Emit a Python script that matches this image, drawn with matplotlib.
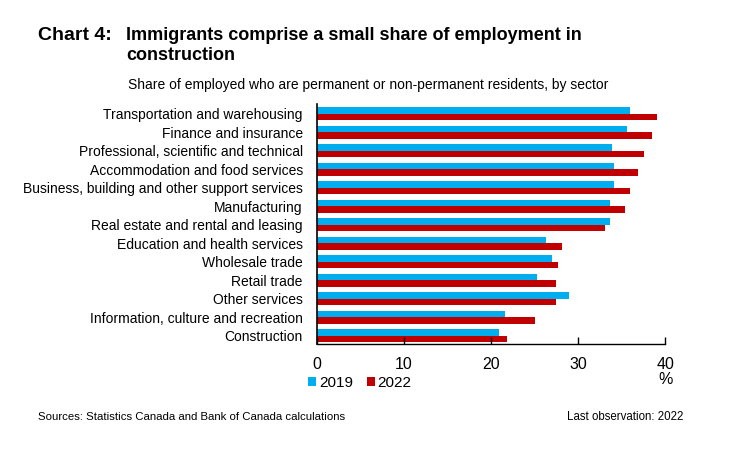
import matplotlib.pyplot as plt
import numpy as np

sectors = [
    'Transportation and warehousing',
    'Finance and insurance',
    'Professional, scientific and technical',
    'Accommodation and food services',
    'Business, building and other support services',
    'Manufacturing',
    'Real estate and rental and leasing',
    'Education and health services',
    'Wholesale trade',
    'Retail trade',
    'Other services',
    'Information, culture and recreation',
    'Construction',
]
share_2019 = [35.9, 35.6, 33.9, 34.1, 34.1, 33.6, 33.6, 26.3, 27.0, 25.3, 28.9, 21.6, 20.9]
share_2022 = [39.0, 38.5, 37.5, 36.9, 36.0, 35.4, 33.1, 28.2, 27.7, 27.4, 27.4, 25.1, 21.8]
xticks = [0, 10, 20, 30, 40]

blue = '#00AEEF'
red = '#C00000'
plt.rcParams['font.family'] = ['Liberation Sans', 'DejaVu Sans']

fig = plt.figure(figsize=(7.33, 4.51), dpi=100)
ax = fig.add_axes([0.432, 0.2366, 0.4757, 0.5328])

y = np.arange(len(sectors))
h = 0.35
ax.barh(y - h / 2, share_2019, height=h, color=blue, label='2019')
ax.barh(y + h / 2, share_2022, height=h, color=red, label='2022')

ax.set_xlim(0, 40)
ax.set_ylim(len(sectors) - 1 + 0.465, -0.52)
ax.set_yticks(y)
ax.set_yticklabels(sectors, fontsize=10)
ax.tick_params(axis='y', length=0, pad=10)
ax.set_xticks(xticks)
ax.set_xticklabels([str(t) for t in xticks], fontsize=11.5)
ax.tick_params(axis='x', direction='in', length=5, width=1, pad=9.5)
for s in ['top', 'right']:
    ax.spines[s].set_visible(False)
ax.spines['left'].set_linewidth(1.2)
ax.spines['bottom'].set_linewidth(1)

# unit label under the last tick
ax.text(40, -0.148, '%', transform=ax.get_xaxis_transform(), ha='center', va='center', fontsize=11.5)

fig.legend(loc='center left', bbox_to_anchor=(308 / 733, 1 - 383 / 451), ncol=2, frameon=False,
           fontsize=11, handlelength=0.52, handleheight=0.52, handletextpad=0.2,
           columnspacing=0.9, borderaxespad=0, borderpad=0)

fig.text(38 / 733, 1 - 35 / 451, 'Chart 4:', fontsize=14, fontweight='bold',
         va='center', ha='left')
fig.text(126 / 733, 1 - 35 / 451, 'Immigrants comprise a small share of employment in',
         fontsize=13, fontweight='bold', va='center', ha='left')
fig.text(126 / 733, 1 - 55 / 451, 'construction',
         fontsize=13, fontweight='bold', va='center', ha='left')
fig.text(128 / 733, 1 - 85 / 451,
         'Share of employed who are permanent or non-permanent residents, by sector',
         fontsize=10, va='center', ha='left')
fig.text(38 / 733, 1 - 417 / 451, 'Sources: Statistics Canada and Bank of Canada calculations',
         fontsize=8.2, va='center', ha='left')
fig.text(683 / 733, 1 - 417 / 451, 'Last observation: 2022',
         fontsize=8.3, va='center', ha='right')

fig.savefig('out.png', dpi=100)
